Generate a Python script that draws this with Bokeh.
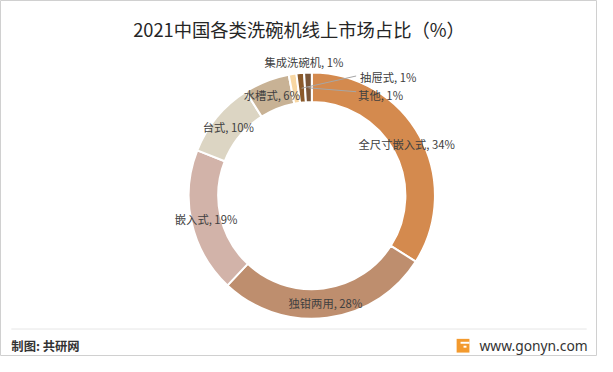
import math
import numpy as np
from bokeh.plotting import figure
from bokeh.models import Range1d, ColumnDataSource
from bokeh.core.properties import value
from bokeh.embed import file_html
from bokeh.resources import INLINE

# ---- data ----
categories = ["全尺寸嵌入式", "独钳两用", "嵌入式", "台式", "水槽式", "集成洗碗机", "抽屉式", "其他"]
shares = [34, 28, 19, 10, 6, 1, 1, 1]
colors = ["#D48A4E", "#BE8E6E", "#D2B3A9", "#DCD5C3", "#C8B295", "#F8D7A3", "#8B5A2B", "#7A5638"]
title_text = "2021中国各类洗碗机线上市场占比（%）"

# ---- layout: data coords = pixel coords of the reference; the figure frame
# covers the reference's bordered box (x 3..609, y 2..365) ----
W, H = 597, 356
X0, X1, Y0, Y1 = 3, 609, 2, 365
cx, cy = 319, 201
r_in, r_out = 95, 125
font = value("Noto Sans CJK SC")

p = figure(width=W, height=H, output_backend="svg", toolbar_location=None,
           x_range=Range1d(X0, X1), y_range=Range1d(-Y1, -Y0),
           min_border=0, min_border_left=0, min_border_right=0,
           min_border_top=0, min_border_bottom=0)
p.axis.visible = False
p.grid.visible = False
p.outline_line_color = "#D0D0D0"
p.background_fill_color = "white"
p.border_fill_color = "white"

vals = np.array(shares, dtype=float)
frac = vals / vals.sum()
cum_after = np.cumsum(frac)
cum_before = cum_after - frac
start = math.pi / 2 - 2 * math.pi * cum_after
end = math.pi / 2 - 2 * math.pi * cum_before
mid = (start + end) / 2

src = ColumnDataSource(dict(cat=categories, val=shares, color=colors, start=start, end=end))
p.annular_wedge(x=cx, y=-cy, inner_radius=r_in, outer_radius=r_out,
                start_angle="start", end_angle="end", fill_color="color",
                line_color="white", line_width=2, source=src)

# labels
labels = [f"{c}, {v}%" for c, v in zip(categories, shares)]
r_mid = (r_in + r_out) / 2
lx, ly, la = [], [], []
for i in range(len(categories)):
    lx.append(cx + r_mid * math.cos(mid[i]))
    ly.append(-cy + r_mid * math.sin(mid[i]))
    la.append("center")
# small slices moved outside (manual label placement)
lx[5], ly[5], la[5] = 311, -65, "center"
lx[6], ly[6], la[6] = 368, -80, "left"
lx[7], ly[7], la[7] = 366, -98, "left"

# leader lines for 抽屉式 / 其他
for i, (ex, ey) in [(6, (364, -79)), (7, (364, -95))]:
    sx = cx + r_mid * math.cos(mid[i])
    sy = -cy + r_mid * math.sin(mid[i])
    p.line([sx, ex], [sy, ey], line_color="#A6A6A6", line_width=1)

lsrc = ColumnDataSource(dict(x=lx, y=ly, t=labels, a=la))
p.text(x="x", y="y", text="t", text_align="a", text_baseline="middle",
       text_font=font, text_font_size="11.3px", text_color="#404040", source=lsrc)

# title
p.text(x=[306], y=[-31], text=[title_text], text_align="center", text_baseline="middle",
       text_font=font, text_font_size="18.3px", text_color="#262626")

# footer
p.line([14, 598], [-337, -337], line_color="#E6E6E6", line_width=1)
p.text(x=[14], y=[-354], text=["制图: 共研网"], text_align="left", text_baseline="middle",
       text_font=font, text_font_size="12.3px", text_font_style="bold", text_color="#333333")
p.text(x=[599], y=[-354], text=["www.gonyn.com"], text_align="right", text_baseline="middle",
       text_font=value("Noto Sans"), text_font_size="13.8px", text_color="#333333")
# logo
p.quad(left=[466], right=[479], top=[-347], bottom=[-361], fill_color="#F39A2E", line_color=None)
p.quad(left=[470, 473], right=[479, 476], top=[-350, -354], bottom=[-352, -356],
       fill_color="white", line_color=None)

open("out.html", "w").write(file_html(p, INLINE))
